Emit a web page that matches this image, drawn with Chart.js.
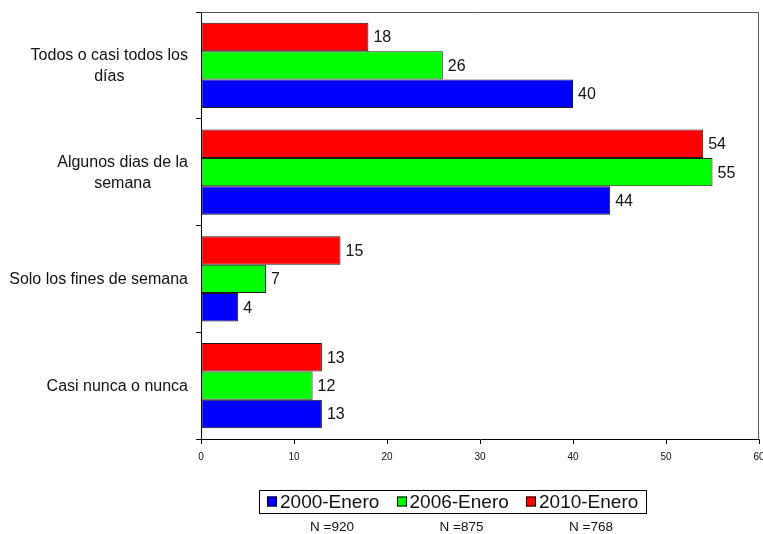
<!DOCTYPE html>
<html><head><meta charset="utf-8">
<script src="https://cdn.jsdelivr.net/npm/chart.js@4/dist/chart.umd.min.js"></script>
<style>html,body{margin:0;padding:0;background:#fff}canvas{display:block}</style>
</head><body>
<canvas id="c" width="763" height="534"></canvas>
<script>
// ---- data ----
const categories = [['Todos o casi todos los','días'],['Algunos dias de la','semana'],['Solo los fines de semana'],['Casi nunca o nunca']];
const seriesNames = ['2000-Enero','2006-Enero','2010-Enero'];
const values2000 = [40, 44, 4, 13];
const values2006 = [26, 55, 7, 12];
const values2010 = [18, 54, 15, 13];
const sampleSizes = ['N =920','N =875','N =768'];
const xTicks = [0, 10, 20, 30, 40, 50, 60];

// ---- styles ----
const FONT = '"Liberation Sans", Arial, sans-serif';
const seriesColors = ['#0000FF', '#00FF00', '#FF0000'];
const TEXT = '#111';

const seriesValues = [values2000, values2006, values2010];
// draw order: 2010 on top of each group, 2000 at bottom
const datasets = [2, 1, 0].map(i => ({
  label: seriesNames[i],
  data: seriesValues[i],
  backgroundColor: seriesColors[i],
  borderColor: '#1a1a1a',
  borderWidth: 1,
  borderSkipped: false,
  categoryPercentage: 0.8,
  barPercentage: 1.0
}));

const custom = {
  id: 'custom',
  beforeDatasetsDraw(chart) {
    const {ctx, chartArea: a} = chart;
    ctx.save();
    ctx.strokeStyle = '#555';
    ctx.lineWidth = 1;
    ctx.beginPath();
    ctx.moveTo(a.left, Math.round(a.top) + 0.5);
    ctx.lineTo(Math.round(a.right) - 0.5, Math.round(a.top) + 0.5);
    ctx.lineTo(Math.round(a.right) - 0.5, a.bottom);
    ctx.stroke();
    ctx.restore();
  },
  afterDatasetsDraw(chart) {
    const ctx = chart.ctx;
    ctx.save();
    ctx.font = '16px ' + FONT;
    ctx.fillStyle = TEXT;
    ctx.textAlign = 'left';
    ctx.textBaseline = 'middle';
    chart.data.datasets.forEach((ds, di) => {
      const meta = chart.getDatasetMeta(di);
      meta.data.forEach((el, i) => {
        ctx.fillText(String(ds.data[i]), el.x + 5, el.y + 1);
      });
    });
    ctx.restore();
  },
  afterDraw(chart) {
    const ctx = chart.ctx;
    const y = chart.scales.y;
    ctx.save();
    // category labels: right-aligned block, centred lines
    ctx.font = '16px ' + FONT;
    ctx.fillStyle = TEXT;
    ctx.textBaseline = 'middle';
    ctx.textAlign = 'center';
    const rightEdge = y.right - 5 - 8;
    const lineH = 21;
    categories.forEach((lines, i) => {
      const cy = y.getPixelForValue(i);
      const w = Math.max(...lines.map(t => ctx.measureText(t).width));
      const cx = rightEdge - w / 2;
      lines.forEach((t, j) => {
        ctx.fillText(t, cx, cy + 1 + (j - (lines.length - 1) / 2) * lineH);
      });
    });
    // legend
    const lx0 = 267, pitch = 129.5, lyc = 501.5;
    ctx.font = '19px ' + FONT;
    ctx.textAlign = 'left';
    let lastEnd = 0;
    seriesNames.forEach((name, i) => {
      const sx = lx0 + i * pitch;
      ctx.fillStyle = seriesColors[i];
      ctx.fillRect(Math.round(sx), lyc - 5, 10, 10);
      ctx.strokeStyle = '#000';
      ctx.lineWidth = 1;
      ctx.strokeRect(Math.round(sx) + 0.5, lyc - 5 + 0.5, 9, 9);
      ctx.fillStyle = TEXT;
      const tx = sx + 13;
      ctx.fillText(name, tx, lyc + 1);
      lastEnd = tx + ctx.measureText(name).width;
    });
    ctx.strokeStyle = '#000';
    ctx.strokeRect(lx0 - 8 + 0.5, 490.5, Math.round(lastEnd + 8 - (lx0 - 8)), 23);
    // sample sizes
    ctx.font = '13.5px ' + FONT;
    ctx.textAlign = 'center';
    sampleSizes.forEach((t, i) => {
      ctx.fillText(t, lx0 + i * pitch + 65, 527);
    });
    ctx.restore();
  }
};

new Chart(document.getElementById('c'), {
  type: 'bar',
  data: { labels: categories, datasets },
  options: {
    indexAxis: 'y',
    responsive: false,
    animation: false,
    devicePixelRatio: 1,
    layout: { padding: { top: 12, right: 4, left: 0, bottom: 65 } },
    plugins: { legend: { display: false }, tooltip: { enabled: false } },
    scales: {
      x: {
        min: 0, max: 60,
        afterBuildTicks: s => { s.ticks = xTicks.map(v => ({ value: v })); },
        afterFit: s => { s.height = 30; s.paddingLeft = 0; s.paddingRight = 0; },
        grid: { drawOnChartArea: false, drawTicks: true, tickLength: 5, color: '#000' },
        border: { color: '#000', width: 1 },
        ticks: { font: { size: 10, family: FONT }, color: TEXT, padding: 7, maxRotation: 0, autoSkip: false }
      },
      y: {
        afterFit: s => { s.width = 201; s.paddingTop = 0; s.paddingBottom = 0; },
        grid: { drawOnChartArea: false, drawTicks: true, tickLength: 5, color: '#000', offset: true },
        border: { color: '#000', width: 1 },
        ticks: { color: 'rgba(0,0,0,0)', font: { size: 16, family: FONT } }
      }
    }
  },
  plugins: [custom]
});
</script>
</body></html>
